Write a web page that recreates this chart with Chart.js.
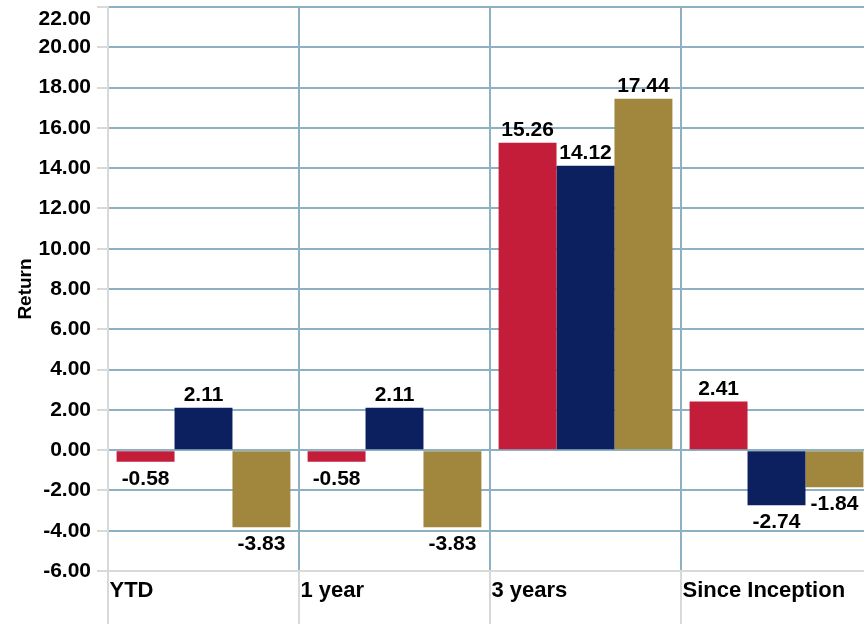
<!DOCTYPE html>
<html>
<head>
<meta charset="utf-8">
<script src="https://cdn.jsdelivr.net/npm/chart.js@4/dist/chart.umd.min.js"></script>
<style>
  html, body { margin: 0; padding: 0; background: #fff; overflow: hidden; }
  #wrap { width: 872px; height: 624px; }
</style>
</head>
<body>
<div id="wrap"><canvas id="chart" width="872" height="624"></canvas></div>
<script>
// data
const categories = ["YTD", "1 year", "3 years", "Since Inception"];
const fundReturns = [-0.58, -0.58, 15.26, 2.41];
const indexReturns = [2.11, 2.11, 14.12, -2.74];
const sectorReturns = [-3.83, -3.83, 17.44, -1.84];
const yTicks = [-6, -4, -2, 0, 2, 4, 6, 8, 10, 12, 14, 16, 18, 20, 22];

const FONT = "'Liberation Sans', Arial, sans-serif";
const GRID = "#8db1c3";
const GREY = "#d9d9d9";

// labels above / below each bar
const barLabels = {
  id: "barLabels",
  afterDatasetsDraw(chart) {
    const ctx = chart.ctx;
    ctx.save();
    ctx.font = "bold 21px " + FONT;
    ctx.fillStyle = "#000";
    ctx.textAlign = "center";
    ctx.textBaseline = "alphabetic";
    chart.data.datasets.forEach((ds, i) => {
      chart.getDatasetMeta(i).data.forEach((bar, j) => {
        const v = ds.data[j];
        const y = v >= 0 ? bar.y - 7 : bar.y + 23;
        ctx.fillText(v.toFixed(2), bar.x, y);
      });
    });
    ctx.restore();
  }
};

const topTick = yTicks[yTicks.length - 1];

new Chart(document.getElementById("chart"), {
  type: "bar",
  data: {
    labels: categories,
    datasets: [
      { label: "Fund", data: fundReturns, backgroundColor: "#c41d3a" },
      { label: "Index", data: indexReturns, backgroundColor: "#0c1f5e" },
      { label: "Sector", data: sectorReturns, backgroundColor: "#a1863e" }
    ]
  },
  options: {
    responsive: false,
    animation: false,
    devicePixelRatio: 1,
    layout: { autoPadding: false, padding: { top: 7, left: 0, right: 0, bottom: 0 } },
    datasets: { bar: { categoryPercentage: 0.91, barPercentage: 1.0, borderWidth: 0 } },
    plugins: { legend: { display: false }, tooltip: { enabled: false } },
    scales: {
      x: {
        grid: {
          color: c => (c.index === 0 ? GREY : GRID),
          lineWidth: 2,
          tickColor: GREY,
          tickLength: 53,
          tickWidth: 2
        },
        border: { color: GREY, width: 2 },
        ticks: {
          color: "#000",
          font: { family: FONT, size: 22, weight: "bold" },
          align: "start",
          labelOffset: -94,
          padding: -46,
          autoSkip: false,
          maxRotation: 0
        },
        afterFit: s => { s.height = 53; s.paddingLeft = 0; s.paddingRight = 0; }
      },
      y: {
        min: yTicks[0],
        max: topTick,
        afterBuildTicks: s => { s.ticks = yTicks.map(v => ({ value: v })); },
        grid: {
          color: c => (c.tick && c.tick.value === yTicks[0] ? GREY : GRID),
          lineWidth: 2,
          tickColor: GREY,
          tickLength: 11,
          tickWidth: 2
        },
        border: { color: GREY, width: 2 },
        ticks: {
          color: "#000",
          font: { family: FONT, size: 21, weight: "bold" },
          padding: 6,
          autoSkip: false,
          // top label sits a little below its line in the original
          callback: v => (v === topTick ? ["", Number(v).toFixed(2)] : Number(v).toFixed(2))
        },
        title: {
          display: true,
          text: "Return",
          color: "#000",
          font: { family: FONT, size: 19, weight: "bold" },
          padding: { top: 14, bottom: 0 }
        },
        afterFit: s => { s.width = 108; s.paddingTop = 0; s.paddingBottom = 0; }
      }
    }
  },
  plugins: [barLabels]
});
</script>
</body>
</html>
